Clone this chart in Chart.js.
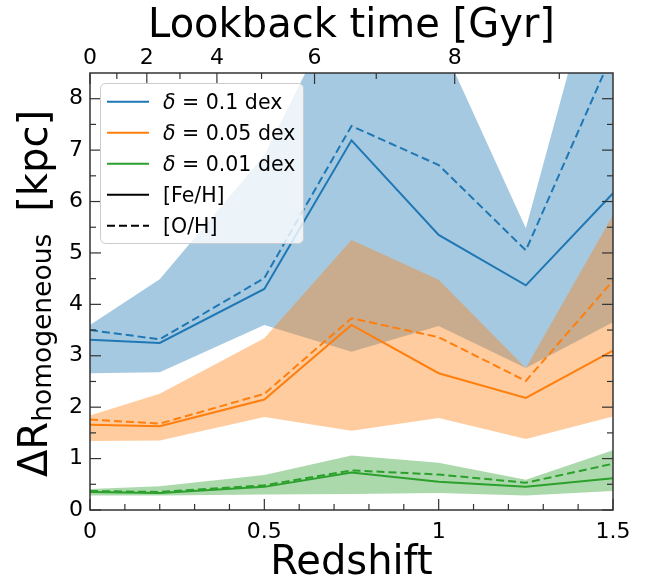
<!DOCTYPE html>
<html><head><meta charset="utf-8">
<script src="https://cdn.jsdelivr.net/npm/chart.js@4.4.1/dist/chart.umd.min.js"></script>
<style>html,body{margin:0;padding:0;background:#fff;} canvas{display:block;}</style>
</head><body>
<canvas id="c" width="646" height="580"></canvas>
<script>
// ---------- data ----------
const redshift = [0, 0.2, 0.5, 0.75, 1.0, 1.25, 1.5];

const blueFeH   = [3.31, 3.25, 4.30, 7.19, 5.35, 4.37, 6.16];
const blueOH    = [3.50, 3.32, 4.51, 7.47, 6.71, 5.05, 8.90];
const blueUpper = [3.60, 4.49, 6.90, 10.3, 9.20, 5.48, 11.7];
const blueLower = [2.66, 2.68, 3.60, 3.08, 3.58, 2.76, 3.65];

const orangeFeH   = [1.66, 1.63, 2.15, 3.60, 2.66, 2.18, 3.10];
const orangeOH    = [1.76, 1.68, 2.26, 3.73, 3.36, 2.51, 4.46];
const orangeUpper = [1.84, 2.26, 3.34, 5.25, 4.48, 2.76, 5.74];
const orangeLower = [1.34, 1.35, 1.81, 1.54, 1.79, 1.38, 1.82];

const greenFeH   = [0.35, 0.33, 0.45, 0.73, 0.55, 0.45, 0.62];
const greenOH    = [0.37, 0.35, 0.48, 0.77, 0.69, 0.53, 0.90];
const greenUpper = [0.41, 0.46, 0.68, 1.06, 0.92, 0.59, 1.16];
const greenLower = [0.28, 0.28, 0.30, 0.31, 0.33, 0.28, 0.37];

// ---------- ticks / labels ----------
const xMajorTicks = [0, 0.5, 1, 1.5];
const xTickLabels = ['0', '0.5', '1', '1.5'];
const xMinorTicks = [0.1, 0.2, 0.3, 0.4, 0.6, 0.7, 0.8, 0.9, 1.1, 1.2, 1.3, 1.4];
const lookbackZ = [0, 0.163, 0.364, 0.644, 1.046];
const lookbackLabels = ['0', '2', '4', '6', '8'];
const lookbackMinorZ = [0.077, 0.258, 0.492, 0.821, 1.346];
const yMajorTicks = [0, 1, 2, 3, 4, 5, 6, 7, 8];
const yMinorTicks = [0.5, 1.5, 2.5, 3.5, 4.5, 5.5, 6.5, 7.5];

const xTitle = 'Redshift';
const topTitle = 'Lookback time [Gyr]';
const yTitleMain = 'ΔR';
const yTitleSub = 'homogeneous';
const yTitleUnit = '[kpc]';

const legendLabels = ['δ = 0.1 dex', 'δ = 0.05 dex', 'δ = 0.01 dex', '[Fe/H]', '[O/H]'];
const legendColors = ['#1f77b4', '#ff7f0e', '#2ca02c', '#000000', '#000000'];
const legendDashed = [false, false, false, false, true];

const FONT = "'DejaVu Sans', sans-serif";
const C_BLUE = '#1f77b4', C_ORANGE = '#ff7f0e', C_GREEN = '#2ca02c';

function pts(arr) { return redshift.map((x, i) => ({x: x, y: arr[i]})); }
function lineDs(label, arr, color, dashed) {
  return {label: label, data: pts(arr), borderColor: color, borderWidth: 2,
    borderDash: dashed ? [8, 4] : [], pointRadius: 0, fill: false, tension: 0,
    xAxisID: 'x', yAxisID: 'y'};
}
function bandDs(label, upper, lower, rgba) {
  return [
    {label: label + ' upper', data: pts(upper), borderWidth: 0, borderColor: 'rgba(0,0,0,0)',
      pointRadius: 0, fill: '+1', backgroundColor: rgba, tension: 0, xAxisID: 'x', yAxisID: 'y'},
    {label: label + ' lower', data: pts(lower), borderWidth: 0, borderColor: 'rgba(0,0,0,0)',
      pointRadius: 0, fill: false, tension: 0, xAxisID: 'x', yAxisID: 'y'}
  ];
}

const datasets = [
  lineDs('0.1 [Fe/H]', blueFeH, C_BLUE, false),
  lineDs('0.1 [O/H]', blueOH, C_BLUE, true),
  lineDs('0.05 [Fe/H]', orangeFeH, C_ORANGE, false),
  lineDs('0.05 [O/H]', orangeOH, C_ORANGE, true),
  lineDs('0.01 [Fe/H]', greenFeH, C_GREEN, false),
  lineDs('0.01 [O/H]', greenOH, C_GREEN, true),
  ...bandDs('0.01', greenUpper, greenLower, 'rgba(44,160,44,0.4)'),
  ...bandDs('0.05', orangeUpper, orangeLower, 'rgba(255,127,14,0.4)'),
  ...bandDs('0.1', blueUpper, blueLower, 'rgba(31,119,180,0.4)')
];

const tickFont = {family: FONT, size: 22};
const noGrid = {display: true, drawOnChartArea: false, drawTicks: false};

const decor = {
  id: 'decor',
  afterDatasetsDraw(chart) {
    const ctx = chart.ctx, a = chart.chartArea;
    const sx = chart.scales.x, sy = chart.scales.y;
    ctx.save();
    // spines
    ctx.strokeStyle = '#333';
    ctx.lineWidth = 1.5;
    ctx.strokeRect(a.left, a.top, a.right - a.left, a.bottom - a.top);
    // inward ticks
    ctx.lineWidth = 1.2;
    const MAJ = 11, MIN = 6;
    function vt(x, y0, len) { ctx.beginPath(); ctx.moveTo(x, y0); ctx.lineTo(x, y0 + len); ctx.stroke(); }
    function ht(y, x0, len) { ctx.beginPath(); ctx.moveTo(x0, y); ctx.lineTo(x0 + len, y); ctx.stroke(); }
    xMajorTicks.forEach(v => vt(sx.getPixelForValue(v), a.bottom, -MAJ));
    xMinorTicks.forEach(v => vt(sx.getPixelForValue(v), a.bottom, -MIN));
    lookbackZ.forEach(v => vt(sx.getPixelForValue(v), a.top, MAJ));
    lookbackMinorZ.forEach(v => vt(sx.getPixelForValue(v), a.top, MIN));
    yMajorTicks.forEach(v => { const y = sy.getPixelForValue(v); ht(y, a.left, MAJ); ht(y, a.right, -MAJ); });
    yMinorTicks.forEach(v => { const y = sy.getPixelForValue(v); ht(y, a.left, MIN); ht(y, a.right, -MIN); });
    ctx.restore();
  },
  afterDraw(chart) {
    const ctx = chart.ctx;
    ctx.save();
    // y-axis title with subscript
    ctx.fillStyle = '#000';
    ctx.textBaseline = 'alphabetic';
    ctx.translate(47, 477);
    ctx.rotate(-Math.PI / 2);
    ctx.font = '40px ' + FONT;
    ctx.fillText(yTitleMain, 0, 0);
    let x = ctx.measureText(yTitleMain).width;
    ctx.font = '26.5px ' + FONT;
    ctx.fillText(yTitleSub, x, 4);
    x += ctx.measureText(yTitleSub).width + 22;
    ctx.font = '40px ' + FONT;
    ctx.fillText(yTitleUnit, x, 0);
    ctx.restore();

    // legend
    ctx.save();
    const bx = 100.5, by = 83.5, bw = 203, bh = 160;
    ctx.beginPath();
    ctx.roundRect(bx, by, bw, bh, 5);
    ctx.fillStyle = 'rgba(255,255,255,0.8)';
    ctx.fill();
    ctx.strokeStyle = '#cccccc';
    ctx.lineWidth = 1;
    ctx.stroke();
    legendLabels.forEach((lab, i) => {
      const cy = 101.7 + i * 31;
      ctx.beginPath();
      ctx.strokeStyle = legendColors[i];
      ctx.lineWidth = 2;
      ctx.setLineDash(legendDashed[i] ? [8, 4] : []);
      ctx.moveTo(107, cy); ctx.lineTo(149, cy);
      ctx.stroke();
      ctx.setLineDash([]);
      ctx.fillStyle = '#000';
      ctx.textBaseline = 'alphabetic';
      let tx = 163;
      let rest = lab;
      if (lab.charAt(0) === 'δ') {
        ctx.font = 'italic 20.5px ' + FONT;
        ctx.fillText('δ', tx, cy + 7.5);
        tx += ctx.measureText('δ').width;
        rest = lab.slice(1);
      }
      ctx.font = '20.5px ' + FONT;
      ctx.fillText(rest, tx, cy + 7.5);
    });
    ctx.restore();
  }
};

new Chart(document.getElementById('c'), {
  type: 'line',
  data: {datasets: datasets},
  options: {
    responsive: false,
    animation: false,
    layout: {padding: 0},
    plugins: {
      legend: {display: false},
      tooltip: {enabled: false},
      filler: {drawTime: 'beforeDatasetsDraw'}
    },
    scales: {
      x: {
        type: 'linear', position: 'bottom', min: 0, max: 1.5,
        afterBuildTicks: s => { s.ticks = xMajorTicks.map(v => ({value: v})); },
        ticks: {font: tickFont, color: '#000', padding: 9, maxRotation: 0, autoSkip: false,
          callback: (v, i) => xTickLabels[i]},
        grid: noGrid,
        border: {display: false},
        title: {display: true, text: xTitle, color: '#000',
          font: {family: FONT, size: 40, lineHeight: 1.2}, padding: {top: 0, bottom: -8}},
        afterFit: s => { s.height = 70; }
      },
      xTop: {
        type: 'linear', position: 'top', min: 0, max: 1.5,
        afterBuildTicks: s => { s.ticks = lookbackZ.map(v => ({value: v})); },
        ticks: {font: tickFont, color: '#000', padding: 2, maxRotation: 0, autoSkip: false,
          callback: (v, i) => lookbackLabels[i]},
        grid: noGrid,
        border: {display: false},
        title: {display: true, text: topTitle, color: '#000',
          font: {family: FONT, size: 40, lineHeight: 1.2}, padding: {top: 3, bottom: 0}},
        afterFit: s => { s.height = 73; }
      },
      y: {
        type: 'linear', position: 'left', min: 0, max: 8.5,
        afterBuildTicks: s => { s.ticks = yMajorTicks.map(v => ({value: v})); },
        ticks: {font: tickFont, color: '#000', padding: 7, autoSkip: false,
          callback: v => String(v)},
        grid: noGrid,
        border: {display: false},
        afterFit: s => { s.width = 90; }
      },
      yRight: {
        type: 'linear', position: 'right', min: 0, max: 8.5,
        ticks: {display: false},
        grid: {display: false},
        border: {display: false},
        afterFit: s => { s.width = 33; }
      }
    }
  },
  plugins: [decor]
});
</script>
</body></html>
